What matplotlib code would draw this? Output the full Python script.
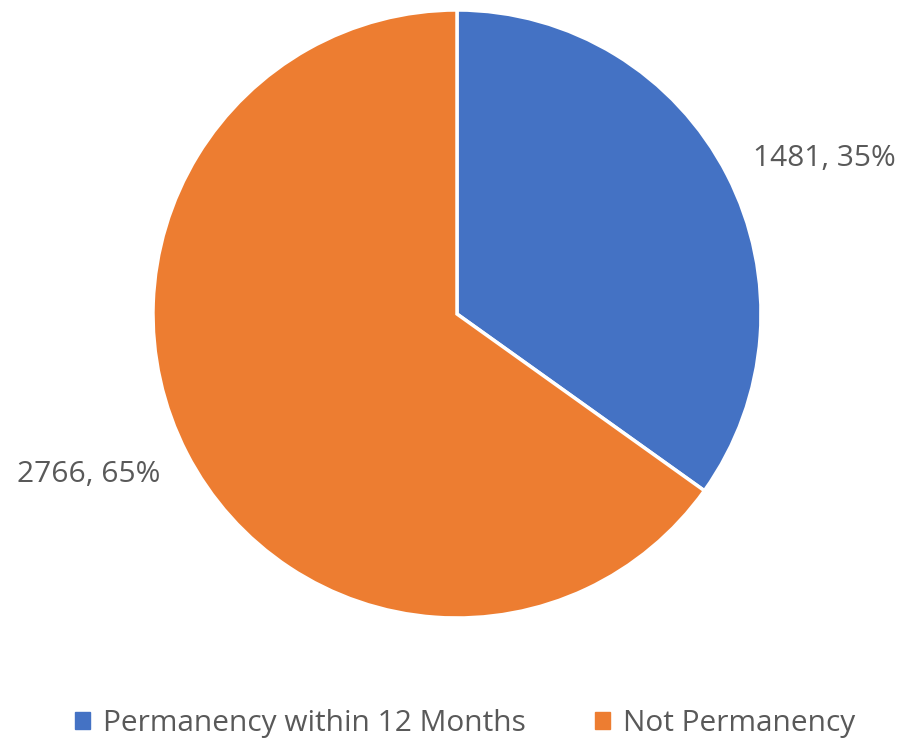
import matplotlib.pyplot as plt
from matplotlib.patches import Patch

# data
categories = ["Permanency within 12 Months", "Not Permanency"]
counts = [1481, 2766]
colors = ["#4472C4", "#ED7D31"]

total = sum(counts)

plt.rcParams['font.family'] = ['Open Sans', 'DejaVu Sans']

fig = plt.figure(figsize=(9.02, 7.41), dpi=100)
# axes sized so the pie radius is ~304px, centered at (457, 314) from top-left
ax = fig.add_axes([(457 - 304) / 902, (741 - 314 - 304) / 741, 608 / 902, 608 / 741])

wedges, texts, autotexts = ax.pie(
    counts,
    colors=colors,
    startangle=90,
    counterclock=False,
    autopct=lambda p: f"{round(p * total / 100)}, {p:.0f}%",
    wedgeprops=dict(edgecolor="white", linewidth=2.5),
    radius=1.0,
)
# excel-style data label spots (outside end)
label_pos = [(1.208, 0.51), (-1.213, -0.527)]
for t, pos in zip(autotexts, label_pos):
    t.set_position(pos)
    t.set_fontsize(21.5)
    t.set_color("#595959")
ax.set_aspect("equal")
ax.set_xlim(-1, 1)
ax.set_ylim(-1, 1)

handles = [Patch(facecolor=c, edgecolor=c) for c in colors]
fig.legend(
    handles, categories,
    loc="center", bbox_to_anchor=(465 / 902, 1 - 724 / 741),
    ncol=2, frameon=False, fontsize=21.5,
    handlelength=0.5, handleheight=0.5, handletextpad=0.45,
    columnspacing=2.3, labelcolor="#595959",
)

plt.savefig("out.png", dpi=100)
